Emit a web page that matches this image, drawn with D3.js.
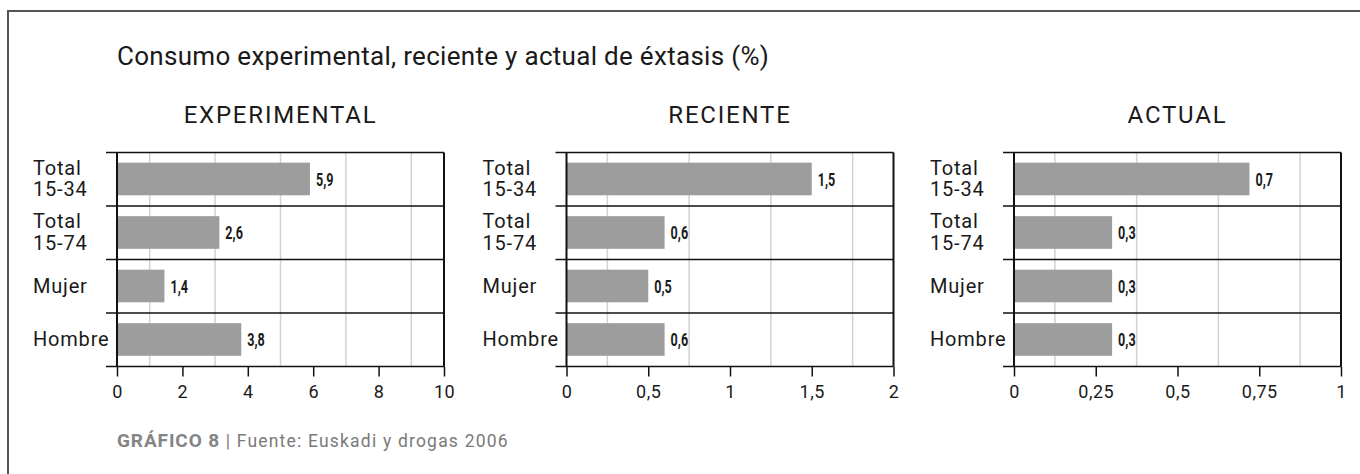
<!DOCTYPE html>
<html lang="es">
<head>
<meta charset="utf-8">
<script src="https://cdn.jsdelivr.net/npm/d3@7"></script>
<style>
    body { margin: 0; background: #fff; }
    text { font-family: Roboto, "Noto Sans", sans-serif; fill: #1a1a1a; }
    .grid line { stroke: #d2d2d2; stroke-width: 1.5; }
    .axis path { display: none; }
    .axis line { stroke: #111; stroke-width: 1.5; }
    .axis text { font-size: 18px; fill: #1a1a1a; letter-spacing: 0.5px; }
</style>
</head>
<body>
<script>
const categories = ["Total 15-34", "Total 15-74", "Mujer", "Hombre"];
const panelTitles = ["EXPERIMENTAL", "RECIENTE", "ACTUAL"];

// bar lengths as drawn in the picture, and the labels printed beside them
const experimental = [5.9, 3.13, 1.45, 3.8];
const experimentalLabels = ["5,9", "2,6", "1,4", "3,8"];
const reciente = [1.5, 0.6, 0.5, 0.6];
const recienteLabels = ["1,5", "0,6", "0,5", "0,6"];
const actual = [0.72, 0.3, 0.3, 0.3];
const actualLabels = ["0,7", "0,3", "0,3", "0,3"];

const experimentalTicks = [0, 2, 4, 6, 8, 10];
const experimentalTickLabels = ["0", "2", "4", "6", "8", "10"];
const experimentalGrid = [1, 3, 5, 7, 9];
const recienteTicks = [0, 0.5, 1, 1.5, 2];
const recienteTickLabels = ["0", "0,5", "1", "1,5", "2"];
const recienteGrid = [0.25, 0.75, 1.25, 1.75];
const actualTicks = [0, 0.25, 0.5, 0.75, 1];
const actualTickLabels = ["0", "0,25", "0,5", "0,75", "1"];
const actualGrid = [0.125, 0.375, 0.625, 0.875];

const panels = [
    {title: panelTitles[0], values: experimental, labels: experimentalLabels, ticks: experimentalTicks, tickLabels: experimentalTickLabels, grid: experimentalGrid},
    {title: panelTitles[1], values: reciente, labels: recienteLabels, ticks: recienteTicks, tickLabels: recienteTickLabels, grid: recienteGrid},
    {title: panelTitles[2], values: actual, labels: actualLabels, ticks: actualTicks, tickLabels: actualTickLabels, grid: actualGrid}
];

let w = 1360;
let h = 474;
let svg = d3.select("body").append("svg")
            .attr("width", w)
            .attr("height", h);

// frame, open on the right and bottom
svg.append("path")
    .attr("d", "M8," + h + "V11H" + w)
    .attr("fill", "none")
    .attr("stroke", "#555")
    .attr("stroke-width", 2);

svg.append("text")
    .attr("x", 117)
    .attr("y", 65)
    .attr("font-size", "26px")
    .attr("letter-spacing", "0.3px")
    .text("Consumo experimental, reciente y actual de éxtasis (%)");

let panelX = [117, 566.5, 1014];
let panelW = 327;
let plotTop = 152.5;
let plotBottom = 366.5;

let yScale = d3.scaleBand()
                .domain(categories)
                .range([plotTop, plotBottom])
                .padding(0);
let bw = yScale.bandwidth();

panels.forEach((p, i) => {
    let x0 = panelX[i];
    let xScale = d3.scaleLinear()
                    .domain([0, p.ticks[p.ticks.length - 1]])
                    .range([x0, x0 + panelW]);
    let g = svg.append("g");

    g.append("text")
        .attr("x", x0 + panelW / 2)
        .attr("y", 123)
        .attr("text-anchor", "middle")
        .attr("font-size", "24px")
        .attr("letter-spacing", "1.8px")
        .text(p.title);

    g.append("g")
        .attr("class", "grid")
        .selectAll("line")
        .data(p.grid)
        .enter()
        .append("line")
        .attr("x1", (d) => xScale(d))
        .attr("x2", (d) => xScale(d))
        .attr("y1", plotTop)
        .attr("y2", plotBottom);

    // row separators
    let edges = categories.map((c) => yScale(c)).concat([plotBottom]);
    g.selectAll(".sep")
        .data(edges)
        .enter()
        .append("line")
        .attr("class", "sep")
        .attr("x1", x0 - 11)
        .attr("x2", x0 + panelW)
        .attr("y1", (d) => d)
        .attr("y2", (d) => d)
        .attr("stroke", "#111")
        .attr("stroke-width", 1.5);

    g.selectAll("rect")
        .data(p.values)
        .enter()
        .append("rect")
        .attr("x", x0)
        .attr("y", (d, j) => yScale(categories[j]) + bw * 0.19)
        .attr("width", (d) => xScale(d) - x0)
        .attr("height", bw * 0.61)
        .attr("fill", "#9d9d9e");

    g.selectAll(".val")
        .data(p.values)
        .enter()
        .append("text")
        .attr("class", "val")
        .attr("transform", (d, j) => "translate(" + (xScale(d) + 6) + "," + (yScale(categories[j]) + bw / 2 + 6.5) + ") scale(0.7,1)")
        .attr("font-size", "18px")
        .attr("font-weight", "bold")
        .text((d, j) => p.labels[j]);

    // vertical axis edges
    [x0, x0 + panelW].forEach((x) => {
        g.append("line")
            .attr("x1", x).attr("x2", x)
            .attr("y1", plotTop).attr("y2", plotBottom)
            .attr("stroke", "#111")
            .attr("stroke-width", 2);
    });

    let cats = g.selectAll(".cat")
        .data(categories)
        .enter()
        .append("text")
        .attr("class", "cat")
        .attr("x", x0 - 84)
        .attr("font-size", "20px")
        .attr("letter-spacing", "0.8px");
    cats.each(function (c) {
        let parts = c.split(" ");
        let cy = yScale(c) + bw / 2;
        let t = d3.select(this);
        if (parts.length === 1) {
            t.attr("y", cy + 6.5).text(c);
        } else {
            t.append("tspan").attr("x", x0 - 84).attr("y", cy - 4.5).text(parts[0]);
            t.append("tspan").attr("x", x0 - 84).attr("y", cy + 17).text(parts[1]);
        }
    });

    let xAxis = d3.axisBottom(xScale)
                    .tickValues(p.ticks)
                    .tickFormat((d, j) => p.tickLabels[j])
                    .tickSize(10)
                    .tickPadding(9);
    g.append("g")
        .attr("class", "axis")
        .attr("transform", "translate(0," + plotBottom + ")")
        .call(xAxis)
        .selectAll("text")
        .attr("font-family", null)
        .attr("font-size", null);
});

let foot = svg.append("text")
    .attr("x", 117)
    .attr("y", 447)
    .attr("font-size", "17.5px");
foot.append("tspan")
    .attr("font-weight", "bold")
    .attr("fill", "#858585")
    .attr("font-size", "19px")
    .attr("letter-spacing", "0.9px")
    .text("GRÁFICO 8");
foot.append("tspan")
    .attr("fill", "#7a7a7a")
    .attr("letter-spacing", "1.2px")
    .text(" | Fuente: Euskadi y drogas 2006");
</script>
</body>
</html>
